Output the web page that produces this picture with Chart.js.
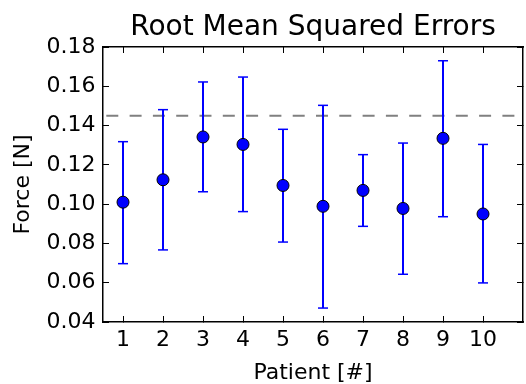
<!DOCTYPE html>
<html>
<head>
<meta charset="utf-8">
<script src="https://cdn.jsdelivr.net/npm/chart.js@4/dist/chart.umd.min.js"></script>
<style>
  html, body { margin: 0; padding: 0; background: #fff; }
  canvas { display: block; }
</style>
</head>
<body>
<canvas id="c" width="526" height="384"></canvas>
<script>
const patients = [1, 2, 3, 4, 5, 6, 7, 8, 9, 10];
const rmse     = [0.1010, 0.1124, 0.1342, 0.1304, 0.1095, 0.0989, 0.1070, 0.0978, 0.1335, 0.0950];
const errLow   = [0.0697, 0.0767, 0.1063, 0.0962, 0.0807, 0.0471, 0.0887, 0.0643, 0.0936, 0.0599];
const errHigh  = [0.1318, 0.1481, 0.1622, 0.1647, 0.1381, 0.1503, 0.1252, 0.1311, 0.1730, 0.1304];
const threshold = 0.145;
const thresholdSpan = [0, 11];
const yTicks = [0.04, 0.06, 0.08, 0.10, 0.12, 0.14, 0.16, 0.18];

const FONT = "'DejaVu Sans', sans-serif";
const BLUE = '#0000ff';

const errLines = [];
patients.forEach((p, i) => {
  errLines.push({x: p, y: errLow[i]}, {x: p, y: errHigh[i]}, {x: p, y: null});
});
const caps = [];
patients.forEach((p, i) => {
  caps.push({x: p, y: errLow[i]}, {x: p, y: errHigh[i]});
});
const points = patients.map((p, i) => ({x: p, y: rmse[i]}));
const thresholdLine = thresholdSpan.map(x => ({x: x, y: threshold}));

const xTickBuild = s => { s.ticks = patients.map(v => ({value: v})); };
const yTickBuild = s => { s.ticks = yTicks.map(v => ({value: v})); };

const inwardGrid = {
  display: true,
  drawOnChartArea: false,
  drawTicks: true,
  tickLength: -6,
  color: '#000',
  lineWidth: 1
};
const axisBorder = { display: true, color: '#000', width: 1.5 };

new Chart(document.getElementById('c'), {
  type: 'scatter',
  data: {
    datasets: [
      { label: 'RMSE', data: points, order: 0, pointRadius: 6, pointHoverRadius: 6,
        pointBackgroundColor: BLUE, pointBorderColor: '#000', pointBorderWidth: 1, showLine: false },
      { label: 'caps', data: caps, order: 1, pointStyle: 'line', pointRadius: 5, pointHoverRadius: 5,
        pointBorderColor: BLUE, pointBorderWidth: 1.5, showLine: false },
      { label: 'err', type: 'line', data: errLines, order: 2, borderColor: BLUE, borderWidth: 2,
        pointRadius: 0, spanGaps: false, fill: false },
      { label: 'threshold', type: 'line', data: thresholdLine, order: 3, borderColor: '#808080',
        borderWidth: 2, borderDash: [12, 11.3], pointRadius: 0, fill: false }
    ]
  },
  options: {
    responsive: false,
    animation: false,
    devicePixelRatio: 1,
    layout: { autoPadding: false, padding: { left: 0, right: 3, top: 0, bottom: 0 } },
    plugins: {
      legend: { display: false },
      tooltip: { enabled: false },
      title: {
        display: true, text: 'Root Mean Squared Errors', fullSize: false, color: '#000',
        font: { family: FONT, size: 28, weight: 'normal', lineHeight: 1.2 },
        padding: { top: 10.8, bottom: 2.6 }
      }
    },
    scales: {
      x: {
        type: 'linear', position: 'bottom', min: 0.5, max: 11,
        afterBuildTicks: xTickBuild,
        afterFit: s => { s.height = 62; s.paddingLeft = 0; s.paddingRight = 0; },
        grid: inwardGrid, border: axisBorder,
        ticks: { color: '#000', font: { family: FONT, size: 22 }, padding: 11, maxRotation: 0, autoSkip: false, callback: v => String(v) },
        title: { display: true, text: 'Patient [#]', color: '#000', font: { family: FONT, size: 22, lineHeight: 1 }, padding: { top: 0, bottom: 0 } }
      },
      x2: {
        type: 'linear', position: 'top', min: 0.5, max: 11,
        afterBuildTicks: xTickBuild,
        afterFit: s => { s.height = 0; s.paddingLeft = 0; s.paddingRight = 0; },
        grid: inwardGrid, border: axisBorder, ticks: { display: false }
      },
      y: {
        type: 'linear', position: 'left', min: 0.04, max: 0.18,
        afterBuildTicks: yTickBuild,
        afterFit: s => { s.width = 103; },
        grid: inwardGrid, border: axisBorder,
        ticks: { color: '#000', font: { family: FONT, size: 22 }, padding: 13.5, autoSkip: false, callback: v => Number(v).toFixed(2) },
        title: { display: true, text: 'Force [N]', color: '#000', font: { family: FONT, size: 22, lineHeight: 1 }, padding: { top: 12, bottom: 12 } }
      },
      y2: {
        type: 'linear', position: 'right', min: 0.04, max: 0.18,
        afterBuildTicks: yTickBuild,
        afterFit: s => { s.width = 0; },
        grid: inwardGrid, border: axisBorder, ticks: { display: false }
      }
    }
  }
});
</script>
</body>
</html>
